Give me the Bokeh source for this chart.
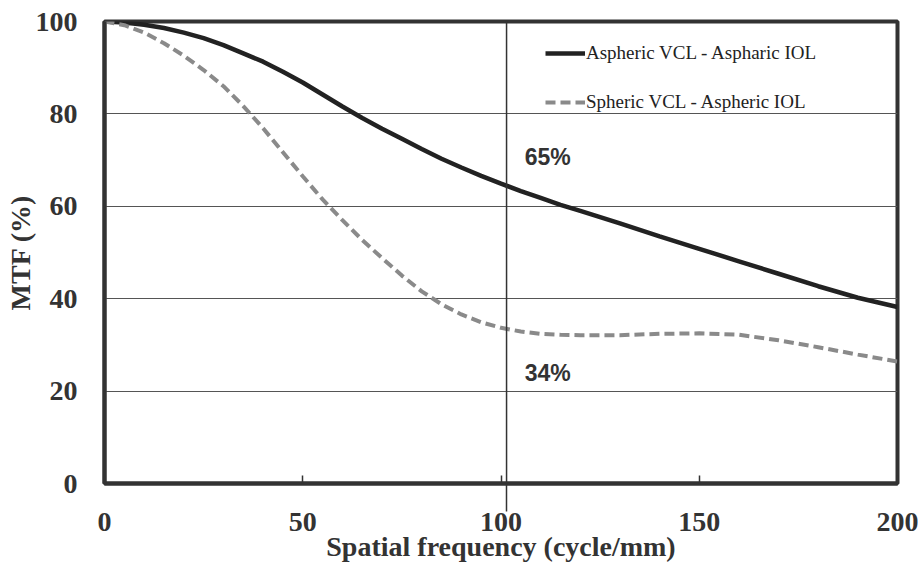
from bokeh.plotting import figure
from bokeh.models import (Range1d, FixedTicker, Legend, LegendItem, Label, Span,
                          ColumnDataSource)
from bokeh.embed import file_html
from bokeh.resources import INLINE

# ---- data ----
freq = [0, 5, 10, 15, 20, 25, 30, 35, 40, 45, 50, 55, 60, 65, 70, 75, 80, 85, 90, 95,
        100, 105, 110, 115, 120, 130, 140, 150, 160, 170, 180, 190, 200]
mtf_aspheric = [100, 99.8, 99.3, 98.6, 97.6, 96.4, 94.9, 93.1, 91.3, 89.1, 86.8, 84.2,
                81.6, 79.1, 76.8, 74.6, 72.4, 70.3, 68.4, 66.6, 64.9, 63.3, 61.8, 60.3,
                59.0, 56.3, 53.5, 50.8, 48.1, 45.4, 42.7, 40.2, 38.2]
mtf_spheric = [100, 99.2, 97.6, 95.3, 92.6, 89.5, 86.0, 81.7, 76.9, 71.7, 66.5, 61.5,
               57.0, 52.7, 48.8, 45.0, 41.6, 38.8, 36.6, 34.9, 33.7, 32.9, 32.4, 32.2,
               32.1, 32.1, 32.4, 32.5, 32.2, 31.0, 29.5, 27.9, 26.4]
series_names = ["Aspheric VCL - Aspharic IOL", "Spheric VCL - Aspheric IOL"]
x_ticks = [0, 50, 100, 150, 200]
y_ticks = [0, 20, 40, 60, 80, 100]
x_title = "Spatial frequency (cycle/mm)"
y_title = "MTF (%)"
marker_freq = 101.4
annot_texts = ["65%", "34%"]
annot_x = [106.0, 106.0]
annot_y = [70.6, 24.0]

src = ColumnDataSource(dict(f=freq, a=mtf_aspheric, s=mtf_spheric))

p = figure(width=918, height=564, output_backend="svg", toolbar_location=None,
           x_range=Range1d(0, 200), y_range=Range1d(0, 100),
           min_border_left=104, min_border_right=21, min_border_top=21,
           min_border_bottom=81)
p.background_fill_color = "white"
p.border_fill_color = "white"
p.outline_line_color = "#333333"
p.outline_line_width = 4

serif = "Liberation Serif"

# grid
p.xgrid.visible = False
p.ygrid.ticker = FixedTicker(ticks=[20, 40, 60, 80])
p.ygrid.grid_line_color = "#555555"
p.ygrid.grid_line_width = 1.2

# axes
# the marker frequency is a "minor tick" pointing outward so the reference
# line continues below the axis as in the reference
p.xaxis.ticker = FixedTicker(ticks=x_ticks, minor_ticks=[marker_freq])
p.yaxis.ticker = FixedTicker(ticks=y_ticks)
for ax in (p.xaxis[0], p.yaxis[0]):
    ax.axis_line_color = "#333333"
    ax.axis_line_width = 4
    ax.major_label_text_font = serif
    ax.major_label_text_font_style = "bold"
    ax.major_label_text_font_size = "28px"
    ax.major_label_text_color = "#333333"
    ax.axis_label_text_font = serif
    ax.axis_label_text_font_style = "bold"
    ax.axis_label_text_font_size = "28px"
    ax.axis_label_text_color = "#333333"

p.xaxis.axis_label = x_title
p.xaxis.major_tick_in = 8
p.xaxis.major_tick_out = 0
p.xaxis.major_tick_line_color = "#333333"
p.xaxis.major_tick_line_width = 1.5
p.xaxis.minor_tick_in = 0
p.xaxis.minor_tick_out = 28
p.xaxis.minor_tick_line_color = "#333333"
p.xaxis.minor_tick_line_width = 1.5
p.xaxis.major_label_standoff = 1
p.xaxis.axis_label_standoff = -3

p.yaxis.axis_label = y_title
p.yaxis.minor_tick_line_color = None
p.yaxis.major_tick_in = 0
p.yaxis.major_tick_out = 0
p.yaxis.major_label_standoff = 27
p.yaxis.axis_label_standoff = -3

# vertical marker line
p.add_layout(Span(location=marker_freq, dimension="height",
                  line_color="#333333", line_width=1.5))

# curves
r1 = p.line("f", "a", source=src, line_color="#222222", line_width=4.5)
r2 = p.line("f", "s", source=src, line_color="#8a8a8a", line_width=4,
            line_dash="10 5")

legend = Legend(items=[LegendItem(label=series_names[0], renderers=[r1]),
                       LegendItem(label=series_names[1], renderers=[r2])],
                location=(441, 370))
legend.border_line_color = None
legend.background_fill_alpha = 0
legend.padding = 0
legend.margin = 0
legend.spacing = 27
legend.glyph_width = 40
legend.glyph_height = 20
legend.label_height = 20
legend.label_standoff = 1
legend.label_text_font = serif
legend.label_text_font_size = "19px"
legend.label_text_color = "#222222"
p.add_layout(legend)

for t, xx, yy in zip(annot_texts, annot_x, annot_y):
    p.add_layout(Label(x=xx, y=yy, text=t, text_font="Liberation Sans",
                       text_font_style="bold", text_font_size="23px",
                       text_color="#333333", text_baseline="middle"))

open("out.html", "w").write(file_html(p, INLINE))
